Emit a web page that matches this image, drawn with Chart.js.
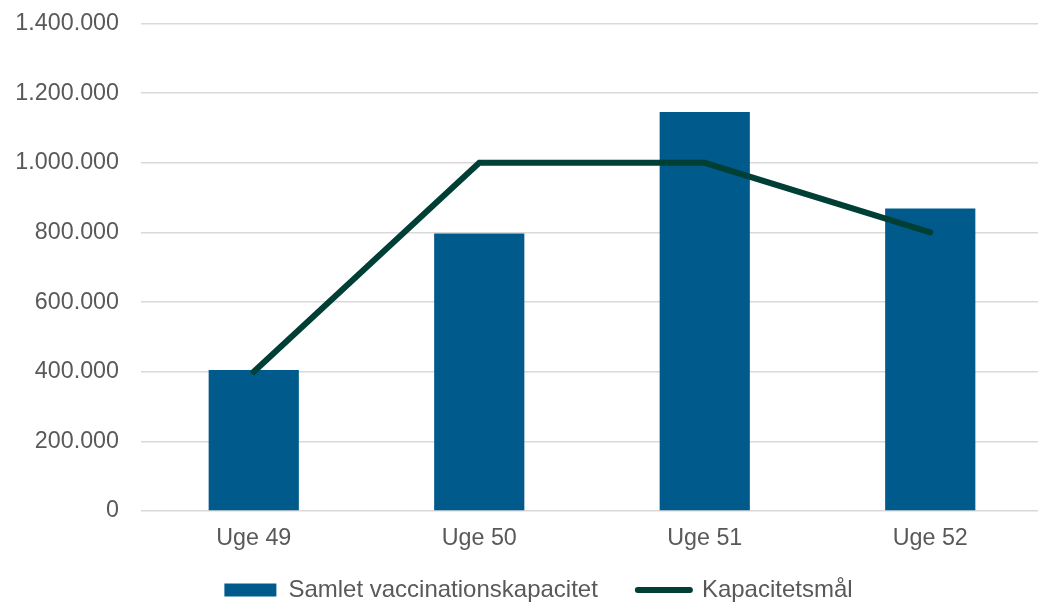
<!DOCTYPE html>
<html>
<head>
<meta charset="utf-8">
<script src="https://cdn.jsdelivr.net/npm/chart.js@4"></script>
<style>
html,body{margin:0;padding:0;overflow:hidden;background:#fff;}
#wrap{width:1043px;height:602px;}
</style>
</head>
<body>
<div id="wrap"><canvas id="c" width="1043" height="602"></canvas></div>
<script>
const categories = ['Uge 49', 'Uge 50', 'Uge 51', 'Uge 52'];
const capacityValues = [405000, 797000, 1146000, 869000];
const targetValues = [400000, 1000000, 1000000, 800000];
const seriesNames = ['Samlet vaccinationskapacitet', 'Kapacitetsmål'];
const yMin = 0, yMax = 1400000, yStep = 200000;

const barColor = '#005A8C';
const lineColor = '#003F35';
const textColor = '#595959';
const gridColor = '#D9D9D9';
const fontFamily = '"Liberation Sans", Arial, sans-serif';

function fmt(v) {
  return String(v).replace(/\B(?=(\d{3})+(?!\d))/g, '.');
}

// nudges the legend box and widens the x-axis label clip after layout
const layoutTweak = {
  id: 'layoutTweak',
  afterLayout(chart) {
    const lg = chart.legend;
    if (lg) {
      const dx = 15, dy = 10;
      lg.left += dx; lg.right += dx;
      lg.top += dy; lg.bottom += dy;
    }
    const xs = chart.scales.x;
    if (xs) xs.bottom = xs.top + 55;
  }
};

new Chart(document.getElementById('c'), {
  type: 'bar',
  data: {
    labels: categories,
    datasets: [
      {
        type: 'bar',
        label: seriesNames[0],
        data: capacityValues,
        backgroundColor: barColor,
        borderWidth: 0,
        categoryPercentage: 1,
        barPercentage: 0.4,
        order: 2
      },
      {
        type: 'line',
        label: seriesNames[1],
        data: targetValues,
        borderColor: lineColor,
        backgroundColor: lineColor,
        borderWidth: 6,
        borderCapStyle: 'round',
        borderJoinStyle: 'miter',
        pointRadius: 0,
        pointHoverRadius: 0,
        tension: 0,
        fill: false,
        order: 1
      }
    ]
  },
  plugins: [layoutTweak],
  options: {
    responsive: false,
    animation: false,
    layout: { padding: { left: 4, top: 23.5, right: 0, bottom: 0 } },
    plugins: {
      tooltip: { enabled: false },
      legend: {
        position: 'bottom',
        labels: {
          usePointStyle: true,
          pointStyleWidth: 52,
          boxWidth: 52,
          boxHeight: 13,
          padding: 40,
          color: textColor,
          font: { family: fontFamily, size: 24 },
          generateLabels: function (chart) {
            return [
              {
                text: seriesNames[0],
                fillStyle: barColor,
                strokeStyle: barColor,
                lineWidth: 0,
                pointStyle: 'rect',
                datasetIndex: 0,
                fontColor: textColor
              },
              {
                text: seriesNames[1],
                fillStyle: lineColor,
                strokeStyle: lineColor,
                lineWidth: 6,
                lineCap: 'round',
                lineJoin: 'round',
                pointStyle: 'line',
                datasetIndex: 1,
                fontColor: textColor
              }
            ];
          }
        }
      }
    },
    scales: {
      x: {
        grid: { display: false, drawTicks: false },
        border: { display: false },
        ticks: {
          color: textColor,
          font: { family: fontFamily, size: 23.3 },
          padding: 14,
          maxRotation: 0,
          autoSkip: false
        },
        afterFit: function (s) { s.height = 17; s.paddingLeft = 0; s.paddingRight = 0; }
      },
      y: {
        min: yMin,
        max: yMax,
        grid: { color: gridColor, lineWidth: 1.5, drawTicks: false },
        border: { display: false },
        ticks: {
          stepSize: yStep,
          color: textColor,
          font: { family: fontFamily, size: 23.3 },
          padding: 22,
          callback: function (v) { return fmt(v); }
        },
        afterFit: function (s) { s.width = 137; s.paddingTop = 0; s.paddingBottom = 0; }
      }
    }
  }
});
</script>
</body>
</html>
